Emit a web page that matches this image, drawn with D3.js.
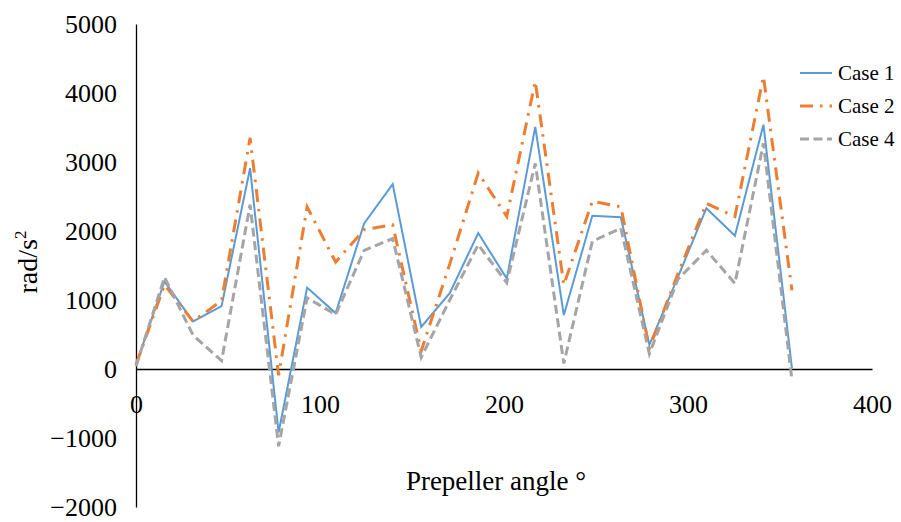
<!DOCTYPE html>
<html>
<head>
<meta charset="utf-8">
<script src="https://cdn.jsdelivr.net/npm/d3@7"></script>
<style>
  html, body { margin: 0; padding: 0; background: #fff; }
  svg { display: block; }
  text { font-family: "Liberation Serif", "Times New Roman", serif; fill: #000; }
</style>
</head>
<body>
<svg id="chart" width="901" height="522"></svg>
<script>
// Propeller angle (degrees) at each sample
const angles = [0, 15.5, 31, 46.5, 62, 77.5, 93, 108.5, 124, 139.5, 155, 170.5,
                186, 201.5, 217, 232.5, 248, 263.5, 279, 294.5, 310, 325.5, 341, 356.5];

// Angular acceleration (rad/s²) for each case
const case1 = [60, 1270, 690, 910, 2910, -920, 1180, 810, 2110, 2680, 610, 1100,
               1970, 1310, 3510, 780, 2220, 2200, 350, 1330, 2330, 1930, 3540, 10];
const case2 = [60, 1220, 690, 990, 3350, -90, 2350, 1550, 2020, 2090, 260, 1520,
               2840, 2210, 4170, 1220, 2430, 2350, 300, 1380, 2400, 2210, 4240, 1140];
const case4 = [40, 1330, 490, 120, 2380, -1120, 1030, 790, 1720, 1890, 170, 1000,
               1800, 1250, 2980, 80, 1850, 2040, 220, 1300, 1720, 1240, 3270, -160];

const seriesNames = ["Case 1", "Case 2", "Case 4"];
const yTicks = [-2000, -1000, 0, 1000, 2000, 3000, 4000, 5000];
const xTicks = [0, 100, 200, 300, 400];

const series = [
  { name: seriesNames[0], values: case1, color: "#5B9BD5", width: 2, dash: null },
  { name: seriesNames[1], values: case2, color: "#ED7D31", width: 3, dash: "13,7,2.5,7" },
  { name: seriesNames[2], values: case4, color: "#A5A5A5", width: 3, dash: "9,4.5" }
];

const svg = d3.select("#chart");

const x = d3.scaleLinear().domain([0, 400]).range([136, 872]);
const y = d3.scaleLinear().domain([-2000, 5000]).range([507, 24]);

// Vertical axis line with tick labels on its left
const yAxis = d3.axisLeft(y).tickValues(yTicks).tickSize(0).tickPadding(19)
  .tickFormat(d => d < 0 ? "\u2212" + Math.abs(d) : String(d));
const gy = svg.append("g").attr("transform", `translate(${x(0)},0)`).call(yAxis);
gy.select(".domain").attr("stroke", "#000").attr("stroke-width", 1.3);
gy.selectAll("text").attr("font-size", 26).attr("font-family", "Liberation Serif");

// Horizontal axis through zero, labels sitting below it
const xAxis = d3.axisBottom(x).tickValues(xTicks).tickSize(0).tickPadding(26)
  .tickFormat(d3.format("d"));
const gx = svg.append("g").attr("transform", `translate(0,${y(0)})`).call(xAxis);
gx.select(".domain").attr("stroke", "#000").attr("stroke-width", 1.3);
gx.selectAll("text").attr("font-size", 26).attr("font-family", "Liberation Serif");

// Data lines
const line = d3.line().x((d, i) => x(angles[i])).y(d => y(d));
series.forEach(s => {
  svg.append("path")
    .datum(s.values)
    .attr("fill", "none")
    .attr("stroke", s.color)
    .attr("stroke-width", s.width)
    .attr("stroke-linejoin", "miter")
    .attr("stroke-dasharray", s.dash)
    .attr("d", line);
});

// Axis titles
svg.append("text")
  .attr("x", 496).attr("y", 490)
  .attr("text-anchor", "middle")
  .attr("font-size", 27)
  .text("Prepeller angle \u00B0");

const yTitle = svg.append("text")
  .attr("transform", "translate(37,262) rotate(-90)")
  .attr("text-anchor", "middle")
  .attr("font-size", 28);
yTitle.append("tspan").text("rad/s");
yTitle.append("tspan").attr("font-size", 17).attr("dy", -11).text("2");

// Legend
const legend = svg.append("g");
series.forEach((s, i) => {
  const ly = 73 + i * 33;
  legend.append("line")
    .attr("x1", 800).attr("x2", 832)
    .attr("y1", ly).attr("y2", ly)
    .attr("stroke", s.color)
    .attr("stroke-width", s.width)
    .attr("stroke-dasharray", s.dash);
  legend.append("text")
    .attr("x", 838).attr("y", ly)
    .attr("dy", "0.35em")
    .attr("font-size", 21)
    .text(s.name);
});
</script>
</body>
</html>
